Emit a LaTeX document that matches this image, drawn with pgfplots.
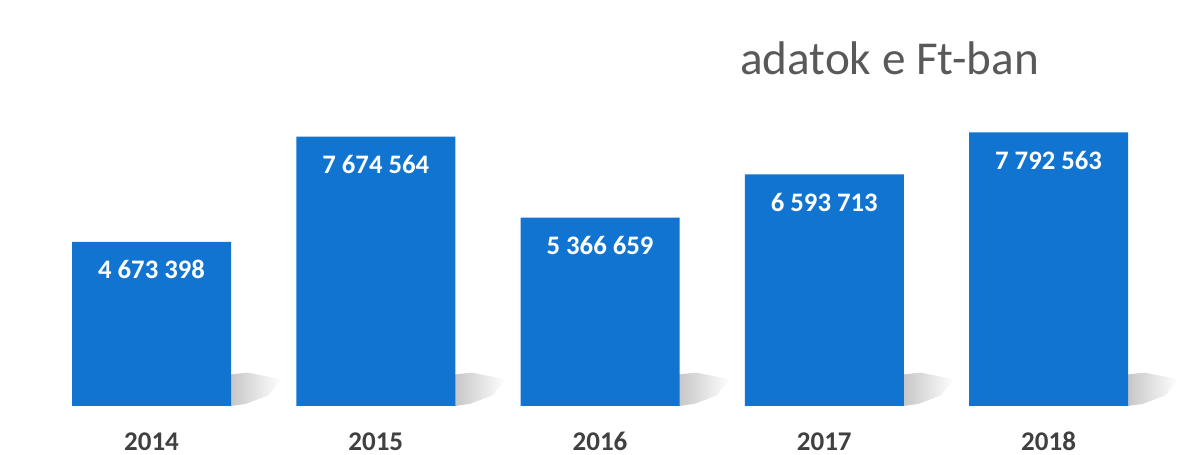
\documentclass[border=0pt]{standalone}
\usepackage{pgfplots}
\pgfplotsset{compat=1.18}
\usepackage{fontspec}
\setmainfont{Carlito}
\definecolor{barblue}{RGB}{16,116,208}
\definecolor{ttl}{RGB}{89,89,89}
\definecolor{yr}{RGB}{64,64,64}
\begin{document}
\begin{tikzpicture}
\path[use as bounding box] (0pt,0pt) rectangle (1200pt,455pt);
\begin{axis}[
  at={(0pt,49pt)}, anchor=south west,
  scale only axis, width=1200pt, height=406pt,
  xmin=-0.6756, xmax=4.6756, ymin=0, ymax=11563000,
  axis line style={draw=none}, tick style={draw=none},
  ytick=\empty,
  xtick={0,1,2,3,4}, xticklabels={2014,2015,2016,2017,2018},
  xticklabel style={anchor=base, inner sep=0pt, yshift=-40pt, text=yr, font=\fontsize{27}{29}\selectfont\bfseries},
  clip=false,
  ybar, bar width=159pt, bar shift=0pt,
  point meta=explicit symbolic,
  nodes near coords,
  every node near coord/.append style={anchor=base, inner sep=0pt, yshift=-37pt, text=white, font=\fontsize{26.7}{28}\selectfont\bfseries},
]
\foreach \i in {0,1,2,3,4} {
  \edef\tmp{\noexpand\shade[left color=black!22, right color=white, draw=none]
    (axis cs:\i+0.354,0) -- (axis cs:\i+0.354,900000) -- (axis cs:\i+0.43,950000) -- (axis cs:\i+0.58,760000) -- (axis cs:\i+0.52,300000) -- (axis cs:\i+0.42,60000) -- cycle;}
  \tmp
}
\addplot[fill=barblue, draw=none] coordinates {
  (0,4673398) [4 673 398]
  (1,7674564) [7 674 564]
  (2,5366659) [5 366 659]
  (3,6593713) [6 593 713]
  (4,7792563) [7 792 563]
};
\end{axis}
\node[anchor=base west, inner sep=0pt, text=ttl, font=\fontsize{47.2}{50}\selectfont] at (740pt,380pt) {adatok e Ft-ban};
\end{tikzpicture}
\end{document}
